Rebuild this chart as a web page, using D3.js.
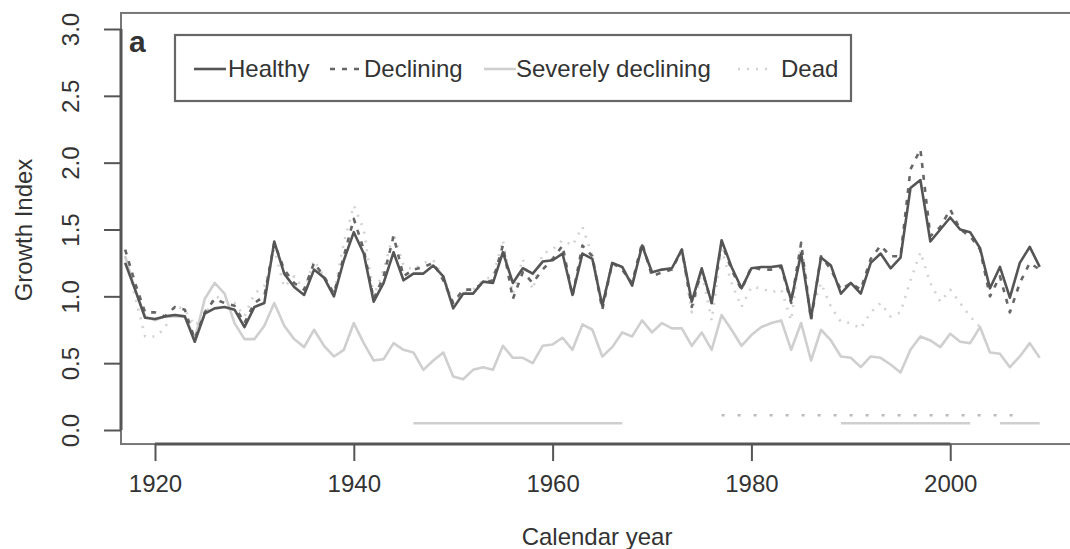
<!DOCTYPE html>
<html>
<head>
<meta charset="utf-8">
<script src="https://cdn.jsdelivr.net/npm/d3@7"></script>
<style>
  body { margin: 0; background: #fff; }
  text { font-family: "Liberation Sans", Arial, sans-serif; fill: #333; }
</style>
</head>
<body>
<svg id="svgContainer" width="1070" height="549"></svg>
<script>
const svg = d3.select("#svgContainer");

// years 1917..2009
const years = d3.range(1917, 2010);

const healthy = [1.25, 1.05, 0.84, 0.83, 0.85, 0.86, 0.85, 0.66, 0.87, 0.91, 0.92, 0.9, 0.77, 0.92, 0.95, 1.41,
  1.17, 1.07, 1.01, 1.2, 1.14, 1.0, 1.27, 1.48, 1.32, 0.96, 1.1, 1.33, 1.12, 1.17, 1.17, 1.23, 1.15,
  0.91, 1.02, 1.02, 1.11, 1.1, 1.33, 1.1, 1.21, 1.17, 1.26, 1.27, 1.32, 1.01, 1.32, 1.28, 0.93,
  1.25, 1.22, 1.08, 1.38, 1.18, 1.2, 1.21, 1.35, 0.96, 1.21, 0.95, 1.42, 1.22, 1.06, 1.21,
  1.22, 1.22, 1.23, 0.97, 1.32, 0.84, 1.29, 1.23, 1.02, 1.1, 1.02, 1.25, 1.32, 1.21, 1.29, 1.81,
  1.87, 1.41, 1.5, 1.59, 1.5, 1.48, 1.36, 1.06, 1.22, 0.99, 1.25, 1.37, 1.22];

const declining = [1.35, 1.1, 0.88, 0.88, 0.85, 0.92, 0.9, 0.68, 0.88, 0.98, 0.95, 0.93, 0.8, 0.95, 1.0, 1.4,
  1.2, 1.1, 1.05, 1.25, 1.15, 1.02, 1.3, 1.58, 1.35, 0.98, 1.15, 1.45, 1.15, 1.2, 1.22, 1.25, 1.12,
  0.95, 1.05, 1.05, 1.1, 1.12, 1.38, 0.98, 1.18, 1.1, 1.2, 1.28, 1.38, 1.0, 1.38, 1.3, 0.9,
  1.25, 1.2, 1.1, 1.4, 1.15, 1.18, 1.2, 1.35, 0.92, 1.2, 0.95, 1.4, 1.2, 1.05, 1.22,
  1.2, 1.2, 1.22, 0.95, 1.4, 0.82, 1.3, 1.2, 1.05, 1.1, 1.05, 1.28, 1.38, 1.3, 1.3, 1.95,
  2.1, 1.45, 1.52, 1.65, 1.5, 1.45, 1.35, 1.0, 1.15, 0.88, 1.1, 1.25, 1.2];

const severe = [1.3, 1.05, 0.85, 0.82, 0.85, 0.85, 0.85, 0.68, 0.98, 1.1, 1.02, 0.8, 0.68, 0.68, 0.78, 0.95,
  0.78, 0.68, 0.62, 0.75, 0.63, 0.55, 0.6, 0.8, 0.65, 0.52, 0.53, 0.65, 0.6, 0.58, 0.45, 0.52, 0.58,
  0.4, 0.38, 0.45, 0.47, 0.45, 0.63, 0.54, 0.54, 0.5, 0.63, 0.64, 0.69, 0.6, 0.79, 0.75, 0.55,
  0.62, 0.73, 0.7, 0.82, 0.73, 0.8, 0.76, 0.76, 0.63, 0.73, 0.6, 0.86, 0.75, 0.63, 0.71,
  0.77, 0.8, 0.82, 0.6, 0.8, 0.52, 0.75, 0.67, 0.55, 0.54, 0.47, 0.55, 0.54, 0.49, 0.43, 0.6,
  0.7, 0.67, 0.62, 0.72, 0.66, 0.65, 0.77, 0.58, 0.57, 0.47, 0.55, 0.65, 0.54];

// dead series stops in 2003
const dead = [1.3, 1.0, 0.7, 0.7, 0.76, 0.93, 0.9, 0.78, 0.85, 1.0, 0.98, 0.95, 0.85, 1.02, 1.08, 1.35,
  1.07, 1.15, 1.05, 1.27, 1.15, 1.02, 1.4, 1.68, 1.5, 1.0, 1.2, 1.47, 1.23, 1.2, 1.25, 1.27, 1.15,
  0.95, 1.02, 1.05, 1.12, 1.15, 1.42, 1.02, 1.28, 1.05, 1.32, 1.35, 1.42, 1.38, 1.52, 1.3, 0.95,
  1.25, 1.22, 1.1, 1.38, 1.18, 1.2, 1.21, 1.33, 0.88, 1.18, 0.82, 1.35, 1.1, 0.92, 1.07,
  1.06, 1.03, 1.05, 0.82, 1.4, 0.88, 1.1, 0.92, 0.81, 0.8, 0.76, 0.88, 0.95, 0.85, 0.88, 1.12,
  1.33, 1.1, 0.96, 1.05, 0.95, 0.85, 0.77];

// periods marked along the bottom
const severePeriods = [[1946, 1967], [1989, 2002], [2005, 2009]];
const deadPeriods = [[1977, 2007]];

const xTicks = [1920, 1940, 1960, 1980, 2000];
const yTicks = [0, 0.5, 1, 1.5, 2, 2.5, 3];

const legendNames = ["Healthy", "Declining", "Severely declining", "Dead"];

const styles = {
  Healthy: { color: "#555", dash: null, width: 2.6 },
  Declining: { color: "#666", dash: "5,7", width: 2.6 },
  "Severely declining": { color: "#cfcfcf", dash: null, width: 2.6 },
  Dead: { color: "#d2d2d2", dash: "2,7", width: 2.6 },
};

const x = d3.scaleLinear().domain([1916.58, 2012.25]).range([121, 1072]);
const y = d3.scaleLinear().domain([0, 3]).range([430, 29]);

const line = d3.line()
  .x((d) => x(d[0]))
  .y((d) => y(d[1]));

function drawSeries(values, name) {
  const s = styles[name];
  svg.append("path")
    .datum(values.map((v, i) => [years[i], v]))
    .attr("fill", "none")
    .attr("stroke", s.color)
    .attr("stroke-width", s.width)
    .attr("stroke-dasharray", s.dash)
    .attr("stroke-linejoin", "round")
    .attr("d", line);
}

// draw light ones first so dark lines sit on top
drawSeries(severe, "Severely declining");
drawSeries(dead, "Dead");
drawSeries(declining, "Declining");
drawSeries(healthy, "Healthy");

svg.selectAll(".sevPeriod")
  .data(severePeriods)
  .enter()
  .append("line")
  .attr("x1", (d) => x(d[0]))
  .attr("x2", (d) => x(d[1]))
  .attr("y1", y(0.05))
  .attr("y2", y(0.05))
  .attr("stroke", "#cfcfcf")
  .attr("stroke-width", 2.4);

svg.selectAll(".deadPeriod")
  .data(deadPeriods)
  .enter()
  .append("line")
  .attr("x1", (d) => x(d[0]))
  .attr("x2", (d) => x(d[1]))
  .attr("y1", y(0.11))
  .attr("y2", y(0.11))
  .attr("stroke", "#bbb")
  .attr("stroke-width", 2.4)
  .attr("stroke-dasharray", "3,13");

// plot box
const boxTop = y(3.12);
const boxBottom = y(-0.105);
svg.append("rect")
  .attr("x", 121)
  .attr("y", boxTop)
  .attr("width", 960)
  .attr("height", boxBottom - boxTop)
  .attr("fill", "none")
  .attr("stroke", "#777")
  .attr("stroke-width", 2);

// axes (R style: axis line only spans the ticks)
const xAxis = svg.append("g")
  .attr("transform", `translate(0,${boxBottom})`)
  .call(d3.axisBottom(x).tickValues(xTicks).tickFormat(d3.format("d")).tickSize(17).tickPadding(14));

const yAxis = svg.append("g")
  .attr("transform", "translate(121,0)")
  .call(d3.axisLeft(y).tickValues(yTicks).tickFormat(d3.format(".1f")).tickSize(17));

xAxis.select(".domain").remove();
yAxis.select(".domain").remove();

xAxis.append("line")
  .attr("x1", x(xTicks[0]))
  .attr("x2", x(xTicks[xTicks.length - 1]))
  .attr("stroke", "#555")
  .attr("stroke-width", 3);

yAxis.append("line")
  .attr("y1", y(yTicks[0]))
  .attr("y2", y(yTicks[yTicks.length - 1]))
  .attr("stroke", "#555")
  .attr("stroke-width", 3);

[xAxis, yAxis].forEach((g) => {
  g.selectAll(".tick line").attr("stroke", "#555").attr("stroke-width", 2);
  g.selectAll(".tick text")
    .style("font-family", '"Liberation Sans", Arial, sans-serif')
    .style("font-size", "24px")
    .attr("fill", "#333");
});

yAxis.selectAll(".tick text")
  .attr("x", 0)
  .attr("y", 0)
  .attr("text-anchor", "middle")
  .attr("dy", null)
  .attr("transform", "translate(-50,0) rotate(-90) translate(0,8)");

// axis titles
svg.append("text")
  .attr("x", 597)
  .attr("y", 545)
  .attr("text-anchor", "middle")
  .style("font-size", "24px")
  .text("Calendar year");

svg.append("text")
  .attr("transform", "translate(32,230) rotate(-90)")
  .attr("text-anchor", "middle")
  .style("font-size", "24px")
  .text("Growth Index");

svg.append("text")
  .attr("x", 129)
  .attr("y", 52)
  .style("font-size", "30px")
  .style("font-weight", "bold")
  .attr("fill", "#111")
  .text("a");

// legend
svg.append("rect")
  .attr("x", 175)
  .attr("y", 35)
  .attr("width", 676)
  .attr("height", 66)
  .attr("fill", "#fff")
  .attr("stroke", "#666")
  .attr("stroke-width", 2.2);

const legendPos = [
  { x1: 194, x2: 226, tx: 228 },
  { x1: 330, x2: 360, tx: 364 },
  { x1: 484, x2: 516, tx: 516 },
  { x1: 738, x2: 770, tx: 781 },
];

legendNames.forEach((name, i) => {
  const s = styles[name];
  const p = legendPos[i];
  svg.append("line")
    .attr("x1", p.x1)
    .attr("x2", p.x2)
    .attr("y1", 69)
    .attr("y2", 69)
    .attr("stroke", s.color)
    .attr("stroke-width", s.width)
    .attr("stroke-dasharray", s.dash);
  svg.append("text")
    .attr("x", p.tx)
    .attr("y", 77)
    .style("font-size", "24px")
    .text(name);
});
</script>
</body>
</html>
